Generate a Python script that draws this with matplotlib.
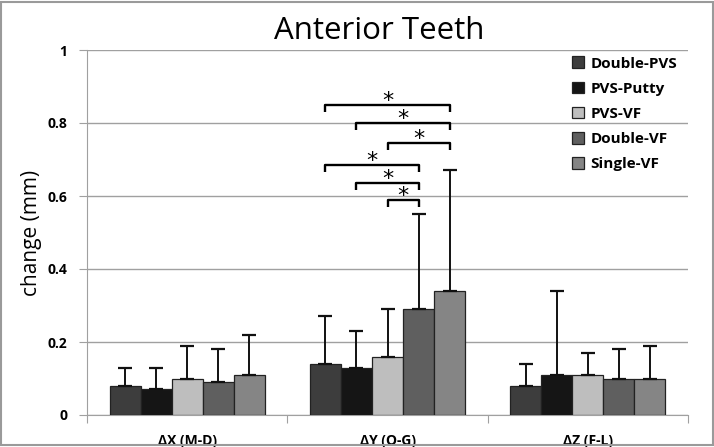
import matplotlib
matplotlib.use("Agg")
import matplotlib.pyplot as plt
from matplotlib.patches import Rectangle
import numpy as np

plt.rcParams['font.family'] = ['Open Sans', 'DejaVu Sans']

categories = ["ΔX (M-D)", "ΔY (O-G)", "ΔZ (F-L)"]
series = ["Double-PVS", "PVS-Putty", "PVS-VF", "Double-VF", "Single-VF"]
means = {
    "Double-PVS": [0.08, 0.14, 0.08],
    "PVS-Putty":  [0.07, 0.13, 0.11],
    "PVS-VF":     [0.10, 0.16, 0.11],
    "Double-VF":  [0.09, 0.29, 0.10],
    "Single-VF":  [0.11, 0.34, 0.10],
}
sds = {
    "Double-PVS": [0.05, 0.13, 0.06],
    "PVS-Putty":  [0.06, 0.10, 0.23],
    "PVS-VF":     [0.09, 0.13, 0.06],
    "Double-VF":  [0.09, 0.26, 0.08],
    "Single-VF":  [0.11, 0.33, 0.09],
}
colors = ["#3d3d3d", "#151515", "#bebebe", "#5f5f5f", "#858585"]
yticks = [0, 0.2, 0.4, 0.6, 0.8, 1.0]
ytick_labels = ["0", "0.2", "0.4", "0.6", "0.8", "1"]
# significance brackets in ΔY group: (series i, series j, height)
sig_pairs = [(0, 4, 0.85), (1, 4, 0.80), (2, 4, 0.745),
             (0, 3, 0.685), (1, 3, 0.636), (2, 3, 0.589)]

fig = plt.figure(figsize=(7.14, 4.47), dpi=100)
ax = fig.add_axes([87/714, 1-415/447, (688-87)/714, (415-50)/447])

# figure border
fig.patches.append(Rectangle((0.002, 0.004), 0.996, 0.992, transform=fig.transFigure,
                             fill=False, edgecolor="#9a9a9a", linewidth=1.5))

n = len(series)
bw = 0.155
x = np.arange(len(categories))
for i, s in enumerate(series):
    pos = x + (i - (n - 1) / 2) * bw
    ax.bar(pos, means[s], width=bw, color=colors[i], edgecolor="#222222",
           linewidth=0.9, label=s, zorder=3)
    ax.errorbar(pos, means[s], yerr=[np.zeros(len(x)), sds[s]], fmt="none",
                ecolor="#111111", elinewidth=1.4, capsize=5, capthick=1.6, zorder=4)

# brackets
gy = 1
drop = 0.02
for i, j, h in sig_pairs:
    xi = gy + (i - (n - 1) / 2) * bw
    xj = gy + (j - (n - 1) / 2) * bw
    ax.plot([xi, xi, xj, xj], [h - drop, h, h, h - drop], color="black",
            linewidth=1.7, zorder=5, solid_capstyle="butt")
    ax.text((xi + xj) / 2, h + 0.010, "*", ha="center", va="center",
            fontsize=16, family="DejaVu Sans", zorder=5)

ax.set_xlim(-0.5, 2.5)
ax.set_ylim(0, 1)
ax.set_yticks(yticks)
ax.set_yticklabels(ytick_labels, fontsize=10, fontweight="bold")
ax.yaxis.grid(True, color="#a0a0a0", linewidth=1, zorder=0)
ax.set_axisbelow(True)
ax.set_xticks([-0.5, 0.5, 1.5, 2.5])
ax.set_xticklabels([])
ax.set_xticks(x, minor=True)
ax.set_xticklabels(categories, minor=True, fontsize=10, fontweight="bold")
ax.tick_params(axis="x", which="minor", length=0, pad=14)
ax.tick_params(axis="x", which="major", length=6, color="#a0a0a0", direction="out")
ax.tick_params(axis="y", length=6, color="#a0a0a0", pad=8)
for sp in ["top", "right"]:
    ax.spines[sp].set_visible(False)
ax.spines["left"].set_color("#a0a0a0")
ax.spines["bottom"].set_color("#a0a0a0")

ax.set_ylabel("change (mm)", fontsize=15, labelpad=4)
ax.set_title("Anterior Teeth", fontsize=22.5, pad=8, x=0.487)

leg = ax.legend(loc="upper right", frameon=False,
                prop={"weight": "bold", "size": 11}, handlelength=0.8,
                handleheight=0.8, labelspacing=0.72, handletextpad=0.4,
                bbox_to_anchor=(1.005, 1.02))

fig.savefig("out.png", dpi=100)
